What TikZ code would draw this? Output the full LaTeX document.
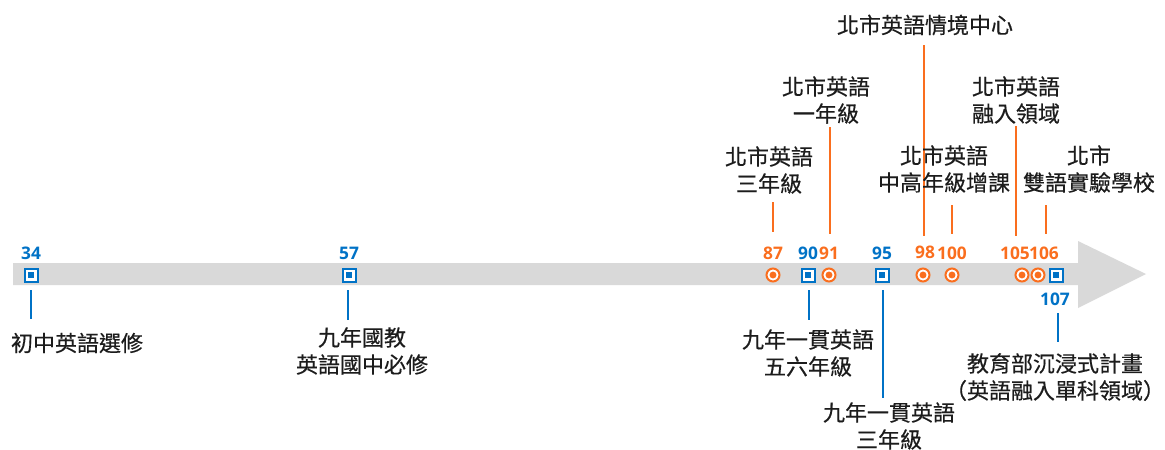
\documentclass[tikz,border=0pt]{standalone}
\usepackage{fontspec}
\newfontfamily\cjk[FakeBold=0.45]{Noto Sans CJK TC}
\newfontfamily\numfont{Open Sans}
\definecolor{tlblue}{RGB}{0,114,198}
\definecolor{tlorange}{RGB}{250,110,30}
\definecolor{bandgray}{RGB}{217,217,217}
\definecolor{txtgray}{RGB}{28,28,28}
\begin{document}
\begin{tikzpicture}[x=0.75pt,y=-0.75pt,
  sqmark/.style={draw=tlblue, line width=1.5pt, fill=white, minimum size=9.75pt, inner sep=0pt, rectangle,
    path picture={\fill[tlblue] ([shift={(-2.6pt,-2.6pt)}]path picture bounding box.center) rectangle ([shift={(2.6pt,2.6pt)}]path picture bounding box.center);}},
  cimark/.style={draw=tlorange, line width=1.5pt, fill=white, minimum size=9.75pt, inner sep=0pt, circle,
    path picture={\fill[tlorange] (path picture bounding box.center) circle[radius=2.6pt];}},
  lbl/.style={font=\cjk\fontsize{16.5}{20.25}\selectfont, text=txtgray, align=center, inner sep=0pt},
  numb/.style={font=\numfont\bfseries\fontsize{13}{15}\selectfont, text=tlblue, inner sep=0pt},
  numo/.style={numb, text=tlorange},
  tickb/.style={draw=tlblue, line width=1.9pt},
  ticko/.style={draw=tlorange, line width=1.9pt}
]
\useasboundingbox (0,0) rectangle (1165,450);
% band arrow
\fill[bandgray] (13,263) -- (1078,263) -- (1078,241) -- (1146,274) -- (1078,308) -- (1078,285) -- (13,285) -- cycle;

% markers
\node[sqmark] (m34) at (31,275) {};
\node[sqmark] (m57) at (349,275) {};
\node[cimark] (m87) at (773,275) {};
\node[sqmark] (m90) at (808,275) {};
\node[cimark] (m91) at (829,275) {};
\node[sqmark] (m95) at (882,275) {};
\node[cimark] (m98) at (923,275) {};
\node[cimark] (m100) at (952,275) {};
\node[cimark] (m105) at (1022,275) {};
\node[cimark] (m106) at (1038,275) {};
\node[sqmark] (m107) at (1056,275) {};

% year numbers
\node[numb] (n34) at (31,253) {34};
\node[numb] (n57) at (349,253) {57};
\node[numo] (n87) at (773,253) {87};
\node[numb] (n90) at (808,253) {90};
\node[numo] (n91) at (829,253) {91};
\node[numb] (n95) at (882,253) {95};
\node[numo] (n98) at (925,252) {98};
\node[numo] (n100) at (952,253) {100};
\node[numo] (n105) at (1015,253) {105};
\node[numo] (n106) at (1044,253) {106};
\node[numb] (n107) at (1055,299) {107};

% tick coordinates
\coordinate (a34) at (31,290);   \coordinate (b34) at (31,319);
\coordinate (a57) at (348,290);  \coordinate (b57) at (348,320);
\coordinate (a90) at (809,290);  \coordinate (b90) at (809,320);
\coordinate (a95) at (883,290);  \coordinate (b95) at (883,398);
\coordinate (a107) at (1058,313); \coordinate (b107) at (1058,342);
\coordinate (a87) at (773,202);  \coordinate (b87) at (773,232);
\coordinate (a91) at (830,127);  \coordinate (b91) at (830,234);
\coordinate (a98) at (924,45);   \coordinate (b98) at (924,236);
\coordinate (a100) at (952,205); \coordinate (b100) at (952,234);
\coordinate (a105) at (1016,126); \coordinate (b105) at (1016,236);
\coordinate (a106) at (1046,205); \coordinate (b106) at (1046,234);

% ticks
\draw[tickb] (a34) -- (b34);
\draw[tickb] (a57) -- (b57);
\draw[tickb] (a90) -- (b90);
\draw[tickb] (a95) -- (b95);
\draw[tickb] (a107) -- (b107);
\draw[ticko] (a87) -- (b87);
\draw[ticko] (a91) -- (b91);
\draw[ticko] (a98) -- (b98);
\draw[ticko] (a100) -- (b100);
\draw[ticko] (a105) -- (b105);
\draw[ticko] (a106) -- (b106);

% labels
\node[lbl] (t34) at (77,343) {初中英語選修};
\node[lbl] (t57) at (362,351) {九年國教\\英語國中必修};
\node[lbl] (t87) at (769,170) {北市英語\\三年級};
\node[lbl] (t91) at (826,100) {北市英語\\一年級};
\node[lbl] (t98) at (925,25) {北市英語情境中心};
\node[lbl] (t100) at (944,169) {北市英語\\中高年級增課};
\node[lbl] (t105) at (1016,100) {北市英語\\融入領域};
\node[lbl] (t106) at (1089,169) {北市\\雙語實驗學校};
\node[lbl] (t90) at (808,353) {九年一貫英語\\五六年級};
\node[lbl] (t95) at (889,426) {九年一貫英語\\三年級};
\node[lbl] (t107) at (1055,377) {教育部沉浸式計畫\\（英語融入單科領域）};
\end{tikzpicture}
\end{document}
